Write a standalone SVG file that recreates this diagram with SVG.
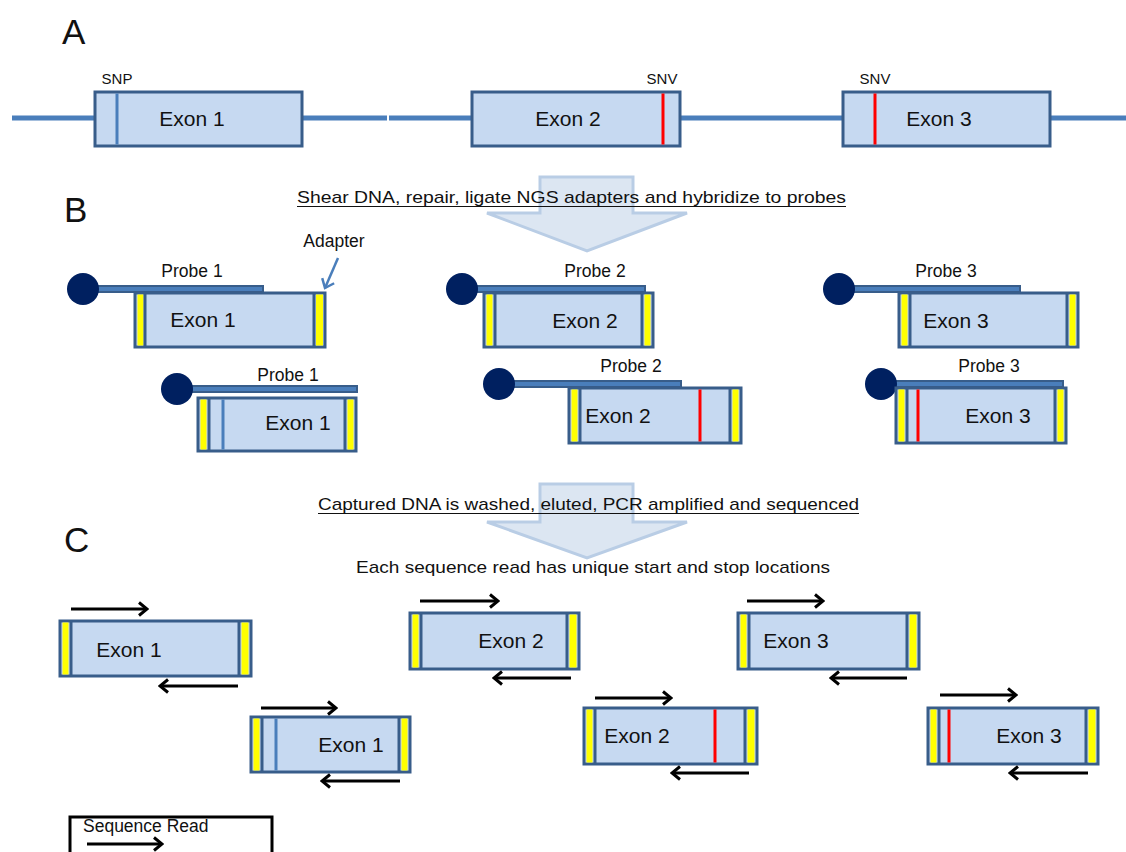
<svg xmlns="http://www.w3.org/2000/svg" width="1126" height="852" viewBox="0 0 1126 852">
<style>
.t{font-family:"Liberation Sans",Arial,sans-serif;fill:#111}
.ex{fill:#c6d9f1;stroke:#385d8a;stroke-width:3}
.yl{fill:#ffff00}
.dv{stroke:#385d8a;stroke-width:3}
.snv{stroke:#ff0000;stroke-width:3}
.snp{stroke:#4a7ebb;stroke-width:3}
.pr{fill:#4a7ebb;stroke:#385d8a;stroke-width:2}
.bd{fill:#002060}
.gl{stroke:#4a7ebb;stroke-width:5}
.rd{stroke:#000;stroke-width:3;fill:none;marker-end:url(#ah)}
.big{fill:#dce6f2;stroke:#b9cde5;stroke-width:3}
.exl{font-size:21px;text-anchor:middle}
.pl{font-size:17.5px;text-anchor:middle}
.sl{font-size:15px;text-anchor:middle}
.hd{font-size:17px}
.lt{font-size:35px}
</style>
<defs>
<marker id="ah" viewBox="0 0 12 16" refX="10" refY="8" markerWidth="12" markerHeight="16" markerUnits="userSpaceOnUse" orient="auto">
<path d="M2,1.5 L10,8 L2,14.5" fill="none" stroke="#000" stroke-width="3"/>
</marker>
<marker id="ahb" viewBox="0 0 12 16" refX="10" refY="8" markerWidth="12" markerHeight="16" markerUnits="userSpaceOnUse" orient="auto">
<path d="M2,1.5 L10,8 L2,14.5" fill="none" stroke="#4a7ebb" stroke-width="2.5"/>
</marker>
</defs>
<rect width="1126" height="852" fill="#fff"/>

<!-- Section letters -->
<text class="t lt" x="62" y="44">A</text>
<text class="t lt" x="64" y="222">B</text>
<text class="t lt" x="64" y="552">C</text>

<!-- Big process arrows -->
<g id="step-arrows">
<polygon class="big" points="540,177 633,177 633,213 687,213 587,251 487,213 540,213"/>
<polygon class="big" points="540,484 633,484 633,522 687,522 587,558 487,522 540,522"/>
</g>

<!-- Connectors (gene backbone and adapter pointer) -->
<g id="connectors">
<line class="gl" x1="12" y1="118" x2="95" y2="118"/>
<line class="gl" x1="302" y1="118" x2="387" y2="118"/>
<line class="gl" x1="389" y1="118" x2="472" y2="118"/>
<line class="gl" x1="680" y1="118" x2="843" y2="118"/>
<line class="gl" x1="1050" y1="118" x2="1126" y2="118"/>
<line x1="338" y1="258" x2="325" y2="288" stroke="#4a7ebb" stroke-width="2.5" marker-end="url(#ahb)"/>
</g>

<!-- Section A -->
<g id="a-exon1">
<rect class="ex" x="95" y="92" width="207" height="54"/>
<line class="snp" x1="117" y1="93.5" x2="117" y2="144.5"/>
<text class="t exl" x="192" y="126">Exon 1</text>
<text class="t sl" x="117" y="84">SNP</text>
</g>
<g id="a-exon2">
<rect class="ex" x="472" y="92" width="208" height="54"/>
<line class="snv" x1="663" y1="93.5" x2="663" y2="144.5"/>
<text class="t exl" x="568" y="126">Exon 2</text>
<text class="t sl" x="662" y="84">SNV</text>
</g>
<g id="a-exon3">
<rect class="ex" x="843" y="92" width="207" height="54"/>
<line class="snv" x1="875" y1="93.5" x2="875" y2="144.5"/>
<text class="t exl" x="939" y="126">Exon 3</text>
<text class="t sl" x="875" y="84">SNV</text>
</g>

<!-- Headings -->
<g id="heading-b">
<text class="t hd" x="297" y="203" textLength="549" lengthAdjust="spacingAndGlyphs">Shear DNA, repair, ligate NGS adapters and hybridize to probes</text>
<line x1="297" y1="206.5" x2="846" y2="206.5" stroke="#111" stroke-width="1.2"/>
</g>
<g id="heading-c">
<text class="t hd" x="318" y="510" textLength="541" lengthAdjust="spacingAndGlyphs">Captured DNA is washed, eluted, PCR amplified and sequenced</text>
<line x1="318" y1="513.5" x2="859" y2="513.5" stroke="#111" stroke-width="1.2"/>
<text class="t hd" x="356" y="573" textLength="474" lengthAdjust="spacingAndGlyphs">Each sequence read has unique start and stop locations</text>
</g>

<text class="t pl" x="334" y="247">Adapter</text>

<!-- Section B -->
<g id="b-probe1-a">
<rect class="pr" x="97" y="286" width="166" height="6"/>
<circle class="bd" cx="83" cy="289" r="16"/>
<rect class="ex" x="135" y="293" width="190" height="54"/>
<rect class="yl" x="137.5" y="294.5" width="6" height="51"/>
<line class="dv" x1="145" y1="294" x2="145" y2="346"/>
<line class="dv" x1="314" y1="294" x2="314" y2="346"/>
<rect class="yl" x="316" y="294.5" width="7" height="51"/>
<text class="t exl" x="203" y="327">Exon 1</text>
<text class="t pl" x="192" y="277">Probe 1</text>
</g>
<g id="b-probe1-b">
<rect class="pr" x="192" y="386" width="165" height="6"/>
<circle class="bd" cx="177" cy="389" r="16"/>
<rect class="ex" x="198" y="398" width="158" height="53"/>
<rect class="yl" x="200.5" y="399.5" width="6" height="50"/>
<line class="dv" x1="209" y1="399" x2="209" y2="450"/>
<line class="snp" x1="223" y1="399.5" x2="223" y2="449.5"/>
<line class="dv" x1="345" y1="399" x2="345" y2="450"/>
<rect class="yl" x="347.5" y="399.5" width="6" height="50"/>
<text class="t exl" x="298" y="430">Exon 1</text>
<text class="t pl" x="288" y="381">Probe 1</text>
</g>
<g id="b-probe2-a">
<rect class="pr" x="477" y="286" width="168" height="6"/>
<circle class="bd" cx="462" cy="289" r="16"/>
<rect class="ex" x="484" y="293" width="169" height="54"/>
<rect class="yl" x="486.5" y="294.5" width="6" height="51"/>
<line class="dv" x1="495" y1="294" x2="495" y2="346"/>
<line class="dv" x1="642" y1="294" x2="642" y2="346"/>
<rect class="yl" x="644.5" y="294.5" width="6" height="51"/>
<text class="t exl" x="585" y="328">Exon 2</text>
<text class="t pl" x="595" y="277">Probe 2</text>
</g>
<g id="b-probe2-b">
<rect class="pr" x="510" y="381" width="171" height="6"/>
<circle class="bd" cx="499" cy="384" r="16"/>
<rect class="ex" x="569" y="388" width="172" height="55"/>
<rect class="yl" x="571.5" y="389.5" width="6" height="52"/>
<line class="dv" x1="580" y1="389" x2="580" y2="442"/>
<line class="snv" x1="700" y1="389.5" x2="700" y2="441.5"/>
<line class="dv" x1="730" y1="389" x2="730" y2="442"/>
<rect class="yl" x="732.5" y="389.5" width="6" height="52"/>
<text class="t exl" x="618" y="423">Exon 2</text>
<text class="t pl" x="631" y="372">Probe 2</text>
</g>
<g id="b-probe3-a">
<rect class="pr" x="854" y="286" width="166" height="6"/>
<circle class="bd" cx="839" cy="289" r="16"/>
<rect class="ex" x="899" y="293" width="179" height="54"/>
<rect class="yl" x="901.5" y="294.5" width="6" height="51"/>
<line class="dv" x1="910" y1="294" x2="910" y2="346"/>
<line class="dv" x1="1067" y1="294" x2="1067" y2="346"/>
<rect class="yl" x="1069.5" y="294.5" width="6" height="51"/>
<text class="t exl" x="956" y="328">Exon 3</text>
<text class="t pl" x="946" y="277">Probe 3</text>
</g>
<g id="b-probe3-b">
<rect class="pr" x="893" y="381" width="170" height="6"/>
<circle class="bd" cx="881" cy="384" r="16"/>
<rect class="ex" x="896" y="388" width="170" height="55"/>
<rect class="yl" x="898.5" y="389.5" width="6" height="52"/>
<line class="dv" x1="907" y1="389" x2="907" y2="442"/>
<line class="snv" x1="918" y1="389.5" x2="918" y2="441.5"/>
<line class="dv" x1="1055" y1="389" x2="1055" y2="442"/>
<rect class="yl" x="1057.5" y="389.5" width="6" height="52"/>
<text class="t exl" x="998" y="423">Exon 3</text>
<text class="t pl" x="989" y="372">Probe 3</text>
</g>

<!-- Section C -->
<g id="c-read1-a">
<rect class="ex" x="60" y="621" width="191" height="55"/>
<rect class="yl" x="62.5" y="622.5" width="6" height="52"/>
<line class="dv" x1="71" y1="622" x2="71" y2="675"/>
<line class="dv" x1="239" y1="622" x2="239" y2="675"/>
<rect class="yl" x="241.5" y="622.5" width="7" height="52"/>
<text class="t exl" x="129" y="657">Exon 1</text>
<line class="rd" x1="71" y1="609" x2="147" y2="609"/>
<line class="rd" x1="238" y1="686" x2="160" y2="686"/>
</g>
<g id="c-read1-b">
<rect class="ex" x="251" y="717" width="159" height="55"/>
<rect class="yl" x="253.5" y="718.5" width="6" height="52"/>
<line class="dv" x1="262" y1="718" x2="262" y2="771"/>
<line class="snp" x1="276" y1="718.5" x2="276" y2="770.5"/>
<line class="dv" x1="399" y1="718" x2="399" y2="771"/>
<rect class="yl" x="401.5" y="718.5" width="6" height="52"/>
<text class="t exl" x="351" y="752">Exon 1</text>
<line class="rd" x1="261" y1="708" x2="336" y2="708"/>
<line class="rd" x1="400" y1="781" x2="322" y2="781"/>
</g>
<g id="c-read2-a">
<rect class="ex" x="410" y="613" width="169" height="56"/>
<rect class="yl" x="412.5" y="614.5" width="6" height="53"/>
<line class="dv" x1="421" y1="614" x2="421" y2="668"/>
<line class="dv" x1="567" y1="614" x2="567" y2="668"/>
<rect class="yl" x="569.5" y="614.5" width="7" height="53"/>
<text class="t exl" x="511" y="648">Exon 2</text>
<line class="rd" x1="420" y1="601" x2="498" y2="601"/>
<line class="rd" x1="571" y1="678" x2="494" y2="678"/>
</g>
<g id="c-read3-a">
<rect class="ex" x="738" y="613" width="181" height="56"/>
<rect class="yl" x="740.5" y="614.5" width="6" height="53"/>
<line class="dv" x1="749" y1="614" x2="749" y2="668"/>
<line class="dv" x1="907" y1="614" x2="907" y2="668"/>
<rect class="yl" x="909.5" y="614.5" width="7" height="53"/>
<text class="t exl" x="796" y="648">Exon 3</text>
<line class="rd" x1="747" y1="601" x2="823" y2="601"/>
<line class="rd" x1="907" y1="678" x2="831" y2="678"/>
</g>
<g id="c-read2-b">
<rect class="ex" x="584" y="708" width="173" height="56"/>
<rect class="yl" x="586.5" y="709.5" width="6" height="53"/>
<line class="dv" x1="595" y1="709" x2="595" y2="763"/>
<line class="snv" x1="715" y1="709.5" x2="715" y2="762.5"/>
<line class="dv" x1="745" y1="709" x2="745" y2="763"/>
<rect class="yl" x="747.5" y="709.5" width="7" height="53"/>
<text class="t exl" x="637" y="743">Exon 2</text>
<line class="rd" x1="595" y1="698" x2="671" y2="698"/>
<line class="rd" x1="749" y1="773" x2="672" y2="773"/>
</g>
<g id="c-read3-b">
<rect class="ex" x="928" y="708" width="170" height="56"/>
<rect class="yl" x="930.5" y="709.5" width="6" height="53"/>
<line class="dv" x1="939" y1="709" x2="939" y2="763"/>
<line class="snv" x1="949" y1="709.5" x2="949" y2="762.5"/>
<line class="dv" x1="1086" y1="709" x2="1086" y2="763"/>
<rect class="yl" x="1088.5" y="709.5" width="7" height="53"/>
<text class="t exl" x="1029" y="743">Exon 3</text>
<line class="rd" x1="940" y1="695" x2="1016" y2="695"/>
<line class="rd" x1="1088" y1="773" x2="1010" y2="773"/>
</g>

<!-- Legend -->
<g id="legend">
<rect x="70" y="817" width="202" height="60" fill="none" stroke="#000" stroke-width="3"/>
<text class="t" x="83" y="832" font-size="17.5">Sequence Read</text>
<line class="rd" x1="87" y1="844" x2="162" y2="844"/>
</g>
</svg>
